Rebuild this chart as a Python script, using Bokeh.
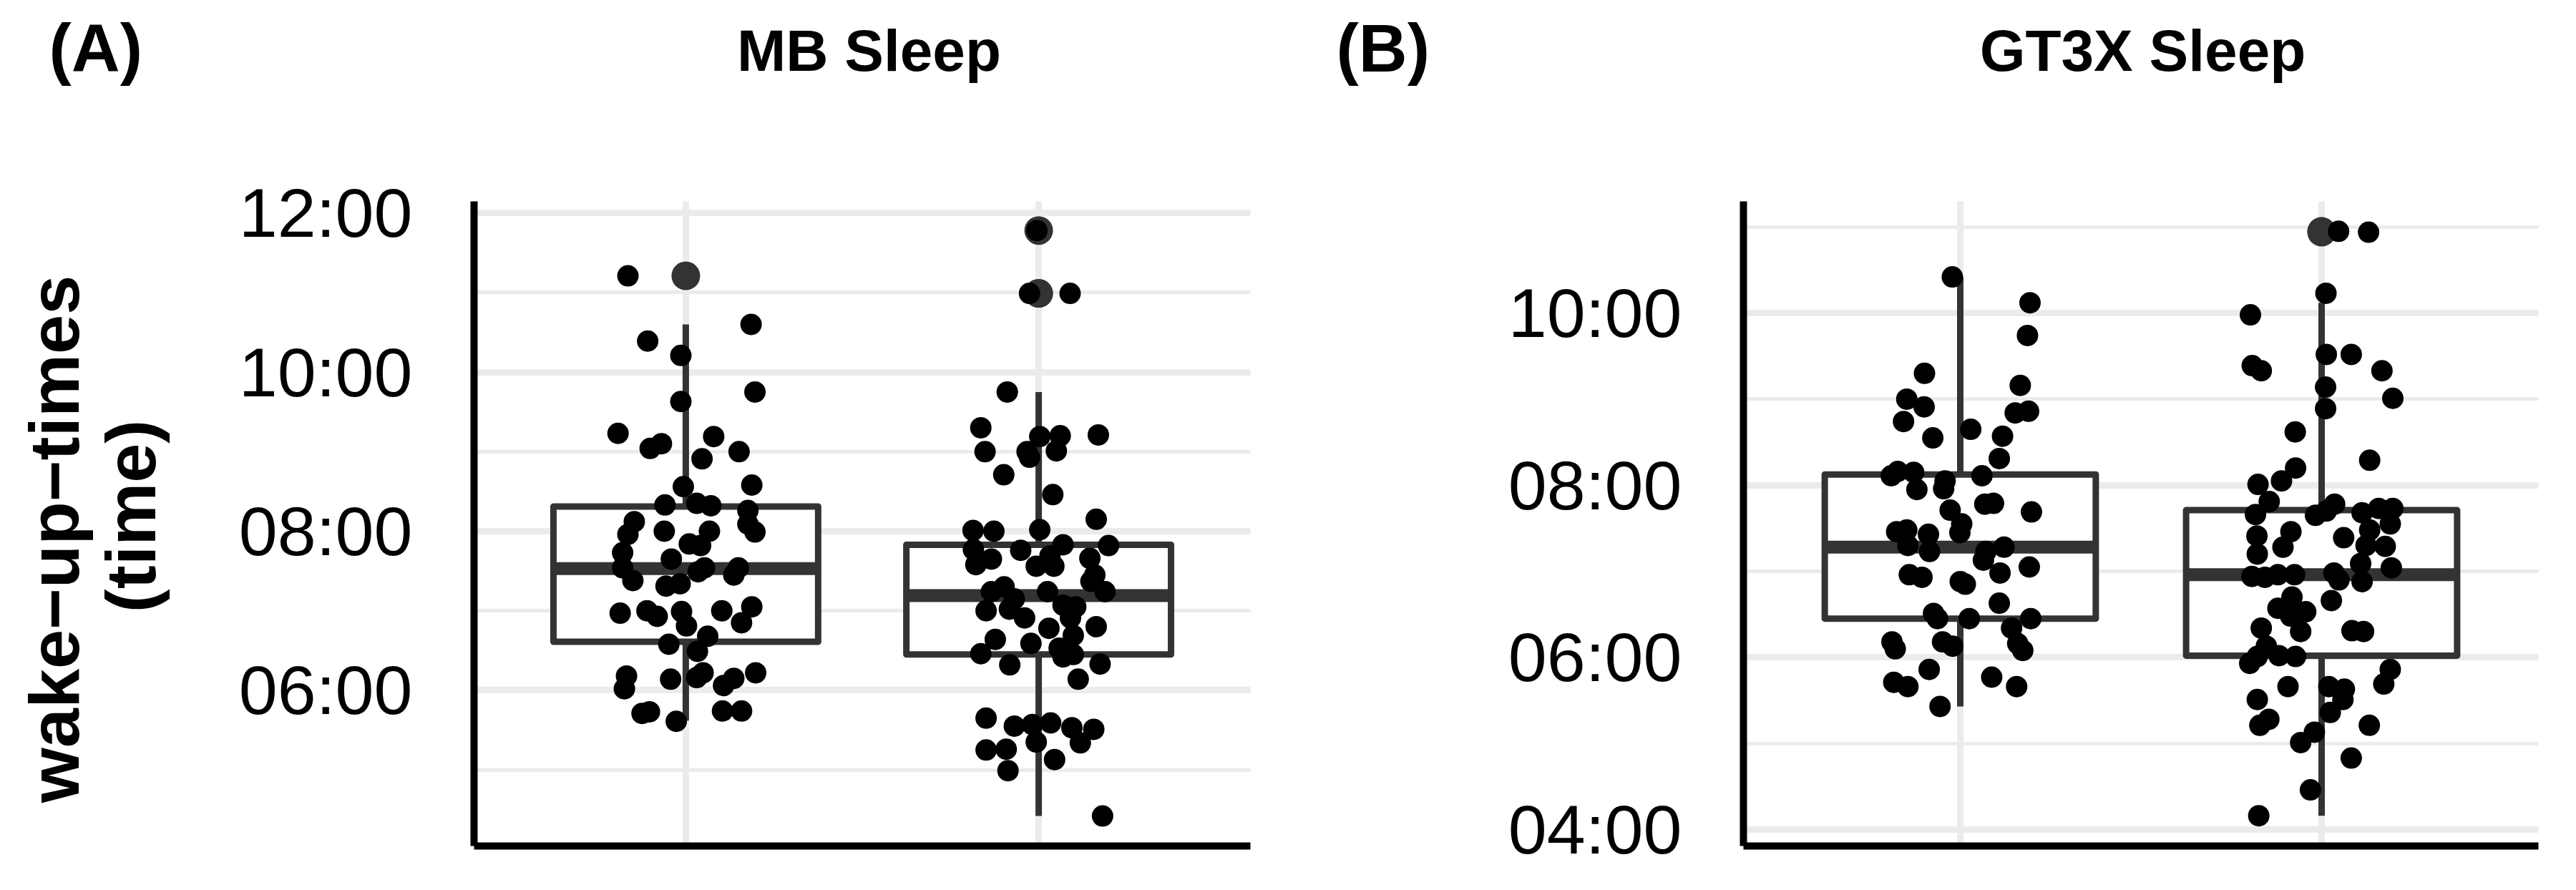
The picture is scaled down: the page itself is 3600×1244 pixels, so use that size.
import math
from bokeh.plotting import figure
from bokeh.models import Range1d, FixedTicker, ColumnDataSource, LinearAxis, Grid
from bokeh.layouts import row
from bokeh.embed import file_html
from bokeh.resources import INLINE
from bokeh.core.properties import value

# ------------------------------------------------------------------ data
groups = [1, 2]                      # two groups per panel (no x labels shown)

# y axis ticks (hours of the day)
mb_ticks = [6, 8, 10, 12]
mb_tick_labels = ["06:00", "08:00", "10:00", "12:00"]
mb_minor = [5, 7, 9, 11]
gt_ticks = [4, 6, 8, 10]
gt_tick_labels = ["04:00", "06:00", "08:00", "10:00"]
gt_minor = [5, 7, 9, 11]

# Panel A - MB Sleep: box statistics
mb_lower = [5.62, 4.42]
mb_q1 = [6.61, 6.45]
mb_median = [7.53, 7.19]
mb_q3 = [8.31, 7.83]
mb_upper = [10.60, 9.75]
mb_outlier_group = [1, 2, 2, 2]
mb_outlier_value = [11.21, 11.78, 10.99, 10.99]

# Panel A - individual wake-up times (jittered points)
mb_g1_values = [11.21, 10.60, 10.39, 10.21, 9.75, 9.63, 9.23, 9.04, 9.10, 9.19,
                9.00, 8.91, 8.56, 8.58, 8.33, 8.35, 8.32, 8.26, 8.12, 8.09,
                7.99, 7.96, 8.00, 8.00, 7.84, 7.82, 7.73, 7.65, 7.54, 7.38,
                7.54, 7.49, 7.54, 7.45, 7.31, 7.34, 6.97, 7.00, 6.93, 6.99,
                6.81, 7.00, 7.05, 6.85, 6.58, 6.68, 6.49, 6.18, 6.02, 6.14,
                6.16, 6.22, 6.06, 6.15, 6.22, 5.71, 5.73, 5.61, 5.74, 5.74]
mb_g1_jitter = [-0.164, 0.185, -0.108, -0.014, 0.196, -0.014, -0.192, -0.101, -0.069, 0.079,
                0.151, 0.046, -0.007, 0.187, -0.059, 0.031, 0.071, 0.176, -0.146, 0.176,
                0.196, -0.164, -0.061, 0.067, 0.010, 0.042, -0.179, -0.041, -0.179, -0.150,
                0.053, 0.035, 0.149, 0.136, -0.056, -0.016, -0.186, -0.110, -0.081, -0.012,
                0.002, 0.102, 0.187, 0.158, -0.048, 0.062, 0.033, -0.168, -0.174, -0.043,
                0.031, 0.049, 0.107, 0.136, 0.198, -0.124, -0.103, -0.027, 0.104, 0.158]
mb_g2_values = [11.78, 10.99, 10.99, 9.75, 9.30, 9.00, 9.19, 9.20, 9.21, 9.00,
                8.93, 9.01, 8.71, 8.46, 8.01, 8.00, 8.02, 8.15, 7.77, 7.58,
                7.65, 7.76, 7.83, 7.82, 7.66, 7.69, 7.56, 7.56, 7.37, 7.45,
                7.24, 7.24, 7.30, 7.15, 7.24, 7.07, 7.05, 7.00, 7.02, 6.91,
                6.91, 6.78, 6.80, 6.69, 6.64, 6.46, 6.59, 6.53, 6.42, 6.45,
                6.32, 6.33, 6.14, 5.65, 5.55, 5.57, 5.59, 5.53, 5.51, 5.35,
                5.34, 5.25, 5.26, 4.99, 5.13, 4.42]
mb_g2_jitter = [-0.005, -0.026, 0.089, -0.089, -0.164, -0.152, 0.003, 0.061, 0.169, -0.033,
                -0.026, 0.050, -0.099, 0.040, -0.186, -0.127, 0.003, 0.163, -0.185, -0.178,
                -0.134, -0.051, 0.069, 0.198, 0.145, 0.032, -0.007, 0.043, 0.148, 0.159,
                0.188, -0.134, -0.098, -0.069, 0.025, 0.069, 0.105, -0.149, -0.083, -0.040,
                0.090, 0.029, 0.163, 0.098, -0.123, -0.164, -0.022, 0.058, 0.069, 0.098,
                -0.082, 0.174, 0.112, -0.149, -0.069, -0.018, 0.034, 0.094, 0.156, -0.007,
                0.118, -0.149, -0.092, -0.087, 0.045, 0.181]

# Panel B - GT3X Sleep: box statistics
gt_lower = [5.43, 4.16]
gt_q1 = [6.45, 6.02]
gt_median = [7.28, 6.96]
gt_q3 = [8.125, 7.71]
gt_upper = [10.42, 10.12]
gt_outlier_group = [2, 2]
gt_outlier_value = [10.95, 10.94]

gt_g1_values = [10.42, 10.12, 9.74, 9.30, 9.00, 8.91, 9.16, 8.84, 8.86, 8.74,
                8.55, 8.65, 8.57, 8.31, 8.11, 8.16, 8.15, 7.95, 8.05, 7.96,
                8.11, 7.78, 7.79, 7.71, 7.69, 7.55, 7.45, 7.46, 7.48, 7.43,
                7.30, 7.23, 7.23, 7.13, 7.28, 6.98, 7.05, 6.96, 6.93, 6.88,
                6.85, 6.63, 6.51, 6.45, 6.45, 6.45, 6.34, 6.18, 6.13, 6.18,
                6.10, 6.16, 6.08, 5.86, 5.71, 5.66, 5.77, 5.66, 5.43]
gt_g1_jitter = [-0.022, 0.193, 0.186, -0.099, -0.148, -0.100, 0.166, 0.152, 0.189, -0.157,
                -0.076, 0.029, 0.117, 0.108, -0.191, -0.173, -0.129, -0.120, -0.042, -0.046,
                0.060, 0.068, 0.092, -0.028, 0.197, 0.004, -0.001, -0.176, -0.148, -0.088,
                -0.145, -0.085, 0.071, 0.064, 0.121, 0.110, 0.191, -0.141, -0.106, 0.000,
                0.014, 0.108, -0.074, -0.063, 0.025, 0.195, 0.142, -0.049, -0.021, -0.189,
                -0.180, 0.159, 0.173, -0.086, -0.184, -0.145, 0.087, 0.156, -0.056]
gt_g2_values = [10.95, 10.94, 10.23, 9.98, 9.39, 9.33, 9.52, 9.52, 9.33, 9.14,
                9.01, 8.89, 8.62, 8.29, 8.20, 8.05, 8.01, 7.81, 7.66, 7.65,
                7.78, 7.70, 7.68, 7.73, 7.73, 7.55, 7.46, 7.41, 7.39, 7.48,
                7.28, 7.20, 7.30, 7.29, 7.09, 7.04, 6.94, 6.93, 6.96, 6.96,
                6.98, 6.90, 6.88, 6.70, 6.66, 6.57, 6.53, 6.48, 6.34, 6.30,
                6.31, 6.30, 6.13, 5.93, 6.01, 6.02, 6.01, 5.86, 5.69, 5.66,
                5.66, 5.63, 5.51, 5.51, 5.28, 5.21, 5.36, 5.21, 5.13, 5.01,
                4.83, 4.46, 4.16]
gt_g2_jitter = [0.047, 0.130, 0.012, -0.197, -0.192, -0.167, 0.013, 0.082, 0.167, 0.011,
                0.197, 0.011, -0.073, 0.133, -0.072, -0.111, -0.176, -0.145, -0.183, -0.017,
                0.036, 0.013, 0.112, 0.158, 0.197, 0.190, -0.085, -0.179, 0.061, 0.133,
                -0.107, -0.178, 0.123, 0.176, 0.108, 0.193, -0.193, -0.157, -0.121, -0.075,
                0.034, 0.048, 0.112, -0.082, 0.027, -0.121, -0.044, -0.086, -0.167, -0.058,
                0.084, 0.116, -0.153, -0.199, -0.178, -0.118, -0.072, 0.190, 0.172, -0.093,
                0.020, 0.063, 0.059, -0.178, -0.146, -0.171, 0.024, 0.132, -0.020, -0.058,
                0.082, -0.031, -0.174]

# ------------------------------------------------------------------ layout (pixels of the full picture)
FIG_TOP, FIG_BOTTOM = 8, 1236
FRAME_TOP, FRAME_BOTTOM = 289, 1190
X_LO, X_HI = 0.4, 2.6    # discrete axis with 0.6 expansion
BOX_W = 0.75
GRID = "#EBEBEB"
DARK = "#333333"
FONT = "Liberation Sans"


def build(fig_l, fig_r, frame_l, frame_r, y_lo, y_hi,
          ticks, tick_labels, minor, lower, q1, med, q3, upper, out_g, out_v,
          g1_vals, g1_jit, g2_vals, g2_jit, texts):
    ppx = (frame_r - frame_l) / (X_HI - X_LO)
    ppy = (FRAME_BOTTOM - FRAME_TOP) / (y_hi - y_lo)
    xr = Range1d(X_LO - (frame_l - fig_l) / ppx, X_HI + (fig_r - frame_r) / ppx)
    yr = Range1d(y_lo - (FIG_BOTTOM - FRAME_BOTTOM) / ppy,
                 y_hi + (FRAME_TOP - FIG_TOP) / ppy)
    p = figure(width=fig_r - fig_l, height=FIG_BOTTOM - FIG_TOP,
               x_range=xr, y_range=yr, x_axis_type=None, y_axis_type=None,
               output_backend="svg", toolbar_location=None,
               min_border=0, min_border_left=0, min_border_right=0,
               min_border_top=0, min_border_bottom=0)
    p.title.visible = False
    p.outline_line_color = None
    p.background_fill_color = "white"
    p.border_fill_color = "white"

    # ---- grids (limited to the panel)
    vgrid = Grid(dimension=0, ticker=FixedTicker(ticks=groups),
                 grid_line_color=GRID, grid_line_width=9)
    hgrid = Grid(dimension=1, ticker=FixedTicker(ticks=ticks, minor_ticks=minor),
                 bounds=(y_lo, y_hi),
                 grid_line_color=GRID, grid_line_width=9,
                 minor_grid_line_color=GRID, minor_grid_line_width=4.8)
    try:
        vgrid.cross_bounds = (y_lo, y_hi)
        hgrid.cross_bounds = (X_LO, X_HI)
        p.add_layout(vgrid)
        p.add_layout(hgrid)
    except Exception:
        p.segment(x0=groups, x1=groups, y0=[y_lo] * 2, y1=[y_hi] * 2,
                  line_color=GRID, line_width=9, level="underlay")
        p.segment(x0=[X_LO] * len(ticks), x1=[X_HI] * len(ticks), y0=ticks, y1=ticks,
                  line_color=GRID, line_width=9, level="underlay")
        mm = [m for m in minor if y_lo < m < y_hi]
        p.segment(x0=[X_LO] * len(mm), x1=[X_HI] * len(mm), y0=mm, y1=mm,
                  line_color=GRID, line_width=4.8, level="underlay")

    # ---- axes at the panel edges
    yax = LinearAxis(fixed_location=X_LO, bounds=(y_lo, y_hi),
                     ticker=FixedTicker(ticks=ticks, minor_ticks=minor))
    yax.major_label_overrides = {t: l for t, l in zip(ticks, tick_labels)}
    yax.axis_line_color = "black"
    yax.axis_line_width = 10
    yax.major_tick_line_color = None
    yax.minor_tick_line_color = None
    yax.major_tick_out = 0
    yax.major_tick_in = 0
    yax.major_label_standoff = 82
    yax.major_label_text_font = FONT
    yax.major_label_text_font_size = "97px"
    yax.major_label_text_color = "black"
    p.add_layout(yax, "left")

    xax = LinearAxis(fixed_location=y_lo, bounds=(X_LO, X_HI),
                     ticker=FixedTicker(ticks=[]))
    xax.axis_line_color = "black"
    xax.axis_line_width = 10
    xax.major_tick_line_color = None
    xax.minor_tick_line_color = None
    p.add_layout(xax, "below")

    # ---- boxplots
    src = ColumnDataSource(dict(
        x=groups, lower=lower, q1=q1, med=med, q3=q3, upper=upper,
        left=[g - BOX_W / 2 for g in groups],
        right=[g + BOX_W / 2 for g in groups]))
    p.segment(x0="x", y0="q3", x1="x", y1="upper", source=src,
              line_color=DARK, line_width=9)
    p.segment(x0="x", y0="q1", x1="x", y1="lower", source=src,
              line_color=DARK, line_width=9)
    p.quad(left="left", right="right", bottom="q1", top="q3", source=src,
           fill_color="white", line_color=DARK, line_width=9,
           line_join="round")
    p.segment(x0="left", y0="med", x1="right", y1="med", source=src,
              line_color=DARK, line_width=18)
    p.scatter(x=out_g, y=out_v, size=40, fill_color=DARK, line_color=None)

    # ---- jittered points
    xs = [groups[0] + j for j in g1_jit] + [groups[1] + j for j in g2_jit]
    ys = list(g1_vals) + list(g2_vals)
    p.scatter(x=xs, y=ys, size=30, fill_color="black", line_color=None)

    # ---- texts, positioned (visual centre) from picture pixels
    def dx(X):
        return X_LO + (X - frame_l) / ppx

    def dy(Y):
        return y_lo + (FRAME_BOTTOM - Y) / ppy

    for t in texts:
        p.text(x=[dx(t["X"])], y=[dy(t["Y"])], text=[t["text"]],
               angle=t.get("angle", 0), text_font=value(FONT),
               text_font_style="bold", text_font_size=value(t["size"]),
               text_color="black", text_align=t["align"],
               text_baseline="middle")
    return p


texts_a = [
    dict(text="(A)", X=76, Y=75, size="94px", align="left"),
    dict(text="MB Sleep", X=1222, Y=78, size="82px", align="center"),
    dict(text="wake\u2212up\u2212times", X=83, Y=761, size="99px",
         align="center", angle=math.pi / 2),
    dict(text="(time)", X=190, Y=729, size="99px", align="center",
         angle=math.pi / 2),
]
texts_b = [
    dict(text="(B)", X=1875, Y=75, size="94px", align="left"),
    dict(text="GT3X Sleep", X=3002, Y=78, size="82px", align="center"),
]

pa = build(8, 1808, 670, 1755, 4.043, 12.146, mb_ticks, mb_tick_labels, mb_minor,
           mb_lower, mb_q1, mb_median, mb_q3, mb_upper,
           mb_outlier_group, mb_outlier_value,
           mb_g1_values, mb_g1_jitter, mb_g2_values, mb_g2_jitter, texts_a)
pb = build(1808, 3592, 2444, 3555, 3.808, 11.298, gt_ticks, gt_tick_labels, gt_minor,
           gt_lower, gt_q1, gt_median, gt_q3, gt_upper,
           gt_outlier_group, gt_outlier_value,
           gt_g1_values, gt_g1_jitter, gt_g2_values, gt_g2_jitter, texts_b)

layout = row(pa, pb)
open("out.html", "w").write(file_html(layout, INLINE))
